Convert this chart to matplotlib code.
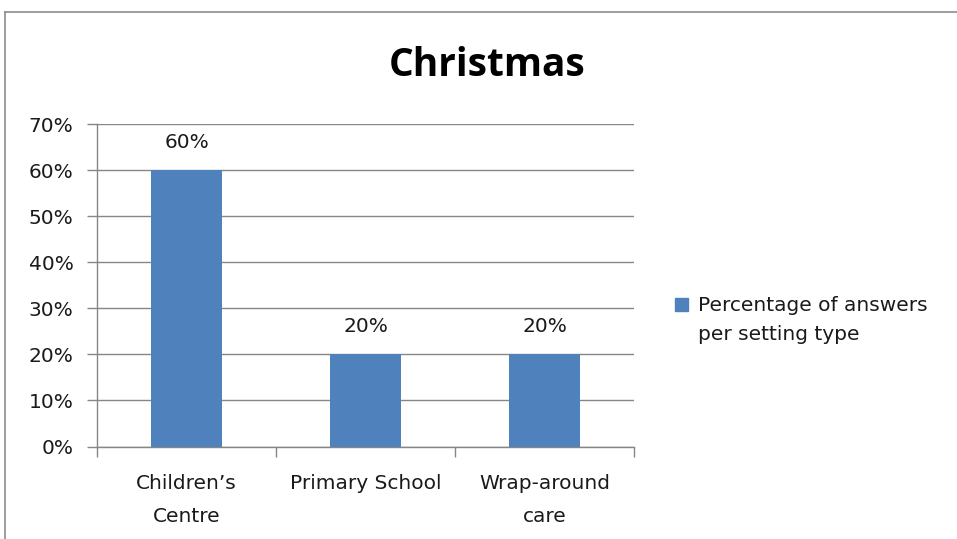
import numpy as np
import matplotlib.pyplot as plt
from matplotlib.lines import Line2D
from matplotlib.ticker import FixedLocator, PercentFormatter

categories = ["Children\u2019s\nCentre", "Primary School", "Wrap-around\ncare"]
values = [60, 20, 20]
series_name = "Percentage of answers\nper setting type"
title = "Christmas"

bar_color = '#4F81BD'
grid_color = '#868686'
text_color = '#1a1a1a'
fontsize = 14.5
plt.rcParams['font.family'] = ['DejaVu Sans']

fig = plt.figure(figsize=(9.57, 5.39), dpi=100)
fig.patch.set_facecolor('white')

# chart frame: only top and left edges show
fig.add_artist(Line2D([5 / 957, 5 / 957], [0, 1 - 12 / 539], transform=fig.transFigure,
                      color='#8c8c8c', lw=1.2))
fig.add_artist(Line2D([5 / 957, 1], [1 - 12 / 539, 1 - 12 / 539], transform=fig.transFigure,
                      color='#8c8c8c', lw=1.2))

ax = fig.add_axes([97 / 957, 1 - 446.5 / 539, (634 - 97) / 957, (446.5 - 124) / 539])
x = np.arange(len(categories))
bars = ax.bar(x, values, width=0.40, color=bar_color, zorder=3)

ax.set_xlim(-0.5, len(categories) - 0.5)
ax.set_ylim(0, 70)
ax.yaxis.set_major_locator(FixedLocator(np.arange(0, 71, 10)))
ax.yaxis.set_major_formatter(PercentFormatter(decimals=0))
ax.grid(axis='y', color=grid_color, lw=1, zorder=0)

ax.xaxis.set_major_locator(FixedLocator(np.arange(-0.5, len(categories), 1.0)))
ax.xaxis.set_major_formatter(plt.NullFormatter())
ax.xaxis.set_minor_locator(FixedLocator(x))
ax.set_xticklabels(categories, minor=True, fontsize=fontsize, color=text_color, linespacing=1.95)
ax.tick_params(axis='x', which='major', direction='out', length=7, color=grid_color, width=1)
ax.tick_params(axis='x', which='minor', length=0, pad=19.5)
ax.tick_params(axis='y', direction='out', length=7, color=grid_color, width=1,
               labelsize=fontsize, labelcolor=text_color, pad=10)

for side in ['top', 'right']:
    ax.spines[side].set_visible(False)
for side in ['left', 'bottom']:
    ax.spines[side].set_color(grid_color)
    ax.spines[side].set_linewidth(1)

for b, v in zip(bars, values):
    ax.annotate(f"{v}%", (b.get_x() + b.get_width() / 2, v), xytext=(0, 13),
                textcoords='offset points', ha='center', va='bottom',
                fontsize=fontsize, color=text_color)

fig.text(487 / 957, 1 - 66 / 539, title, ha='center', va='center',
         fontsize=28, fontweight='bold', color='black', family='Open Sans')

# legend
fig.patches.append(plt.Rectangle((675 / 957, 1 - 311 / 539), 13 / 957, 13 / 539,
                                 transform=fig.transFigure, color=bar_color))
fig.text(698 / 957, 1 - 296 / 539, series_name, ha='left', va='top',
         fontsize=fontsize, color=text_color, linespacing=1.68)

plt.savefig('out.png', dpi=100)
